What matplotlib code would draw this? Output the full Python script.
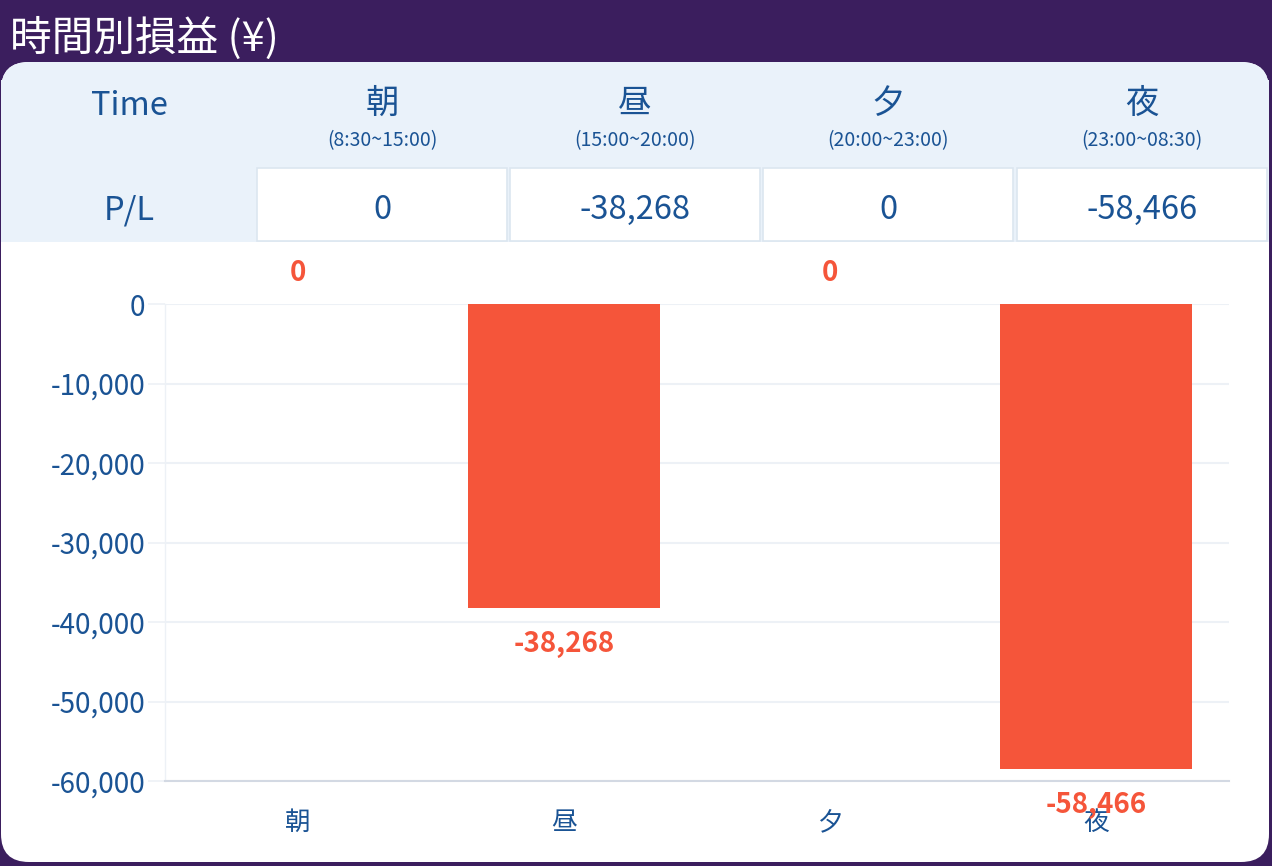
import matplotlib
matplotlib.use("Agg")
import matplotlib.pyplot as plt
from matplotlib.patches import Rectangle, FancyBboxPatch
from matplotlib.ticker import FuncFormatter

plt.rcParams['font.family'] = ['Noto Sans CJK JP', 'DejaVu Sans']

title = "時間別損益 (¥)"
categories = ["朝", "昼", "夕", "夜"]
time_ranges = ["(8:30~15:00)", "(15:00~20:00)", "(20:00~23:00)", "(23:00~08:30)"]
pl_values = [0, -38268, 0, -58466]
y_ticks = [0, -10000, -20000, -30000, -40000, -50000, -60000]

PURPLE = "#3B1E5E"
BLUE = "#1A5394"
BAR = "#F5553A"
LIGHT = "#EAF2FA"
GRID = "#EDF1F6"

W, H = 1272, 866
fig = plt.figure(figsize=(W / 100, H / 100), dpi=100)
fig.patch.set_facecolor(PURPLE)

def fx(x):
    return x / W

def fy(y):
    return 1 - y / H

# white card
card = FancyBboxPatch((fx(1), fy(862)), fx(1268), (862 - 62) / H,
                      boxstyle="round,pad=0,rounding_size=0.022",
                      transform=fig.transFigure, facecolor="white",
                      edgecolor="none", mutation_aspect=W / H, zorder=-3)
fig.patches.append(card)
fig.patches.append(Rectangle((fx(1), fy(242)), fx(1268), (242 - 80) / H,
                             transform=fig.transFigure, facecolor=LIGHT,
                             edgecolor="none", zorder=-2))
top = FancyBboxPatch((fx(1), fy(130)), fx(1268), (130 - 62) / H,
                     boxstyle="round,pad=0,rounding_size=0.022",
                     transform=fig.transFigure, facecolor=LIGHT,
                     edgecolor="none", mutation_aspect=W / H, zorder=-2)
fig.patches.append(top)

fig.text(fx(10), fy(38), title, color="white", fontsize=30, va="center", ha="left")

col_left = [257, 510, 763, 1017]
col_w = 250
fig.text(fx(129), fy(106), "Time", color=BLUE, fontsize=23.5, ha="center", va="center")
fig.text(fx(129), fy(211), "P/L", color=BLUE, fontsize=23.5, ha="center", va="center")
for i, cat in enumerate(categories):
    cx = col_left[i] + col_w / 2
    fig.text(fx(cx), fy(103), cat, color=BLUE, fontsize=24, ha="center", va="center")
    fig.text(fx(cx), fy(141), time_ranges[i], color=BLUE, fontsize=14, ha="center", va="center")
    fig.patches.append(Rectangle((fx(col_left[i]), fy(241)), fx(col_w), (241 - 168) / H,
                                 transform=fig.transFigure, facecolor="white",
                                 edgecolor="#DCE6F0", linewidth=1.2, zorder=-1))
    fig.text(fx(cx), fy(210), f"{pl_values[i]:,}", color=BLUE, fontsize=23.5,
             ha="center", va="center")

# chart axes
ax = fig.add_axes([fx(165), fy(781), fx(1229 - 165), (781 - 304) / H])
ax.set_facecolor("white")
x = range(len(categories))
ax.bar(x, pl_values, width=0.72, color=BAR, zorder=3)
ax.set_xlim(-0.5, len(categories) - 0.5)
ax.set_ylim(-60000, 0)
ax.set_yticks(y_ticks)
ax.yaxis.set_major_formatter(FuncFormatter(lambda v, p: f"{int(v):,}"))
ax.set_xticks(list(x))
ax.set_xticklabels(categories)
ax.grid(axis="y", color=GRID, linewidth=1.5, zorder=0)
ax.tick_params(axis="y", colors=BLUE, labelsize=20, length=12, width=1.2, color=GRID, pad=2)
ax.tick_params(axis="x", colors=BLUE, labelsize=18.5, length=0, pad=21)
for lab in ax.get_yticklabels() + ax.get_xticklabels():
    lab.set_color(BLUE)
for s in ["top", "right"]:
    ax.spines[s].set_visible(False)
ax.spines["left"].set_color(GRID)
ax.spines["left"].set_linewidth(1)
ax.spines["bottom"].set_color("#D3D9E3")
ax.spines["bottom"].set_linewidth(1.5)

for i, v in enumerate(pl_values):
    if v == 0:
        ax.annotate(f"{v:,}", (i, v), xytext=(0, 22), textcoords="offset points",
                    ha="center", va="center", color=BAR, fontsize=20, fontweight="bold",
                    annotation_clip=False)
    else:
        ax.annotate(f"{v:,}", (i, v), xytext=(0, -26), textcoords="offset points",
                    ha="center", va="center", color=BAR, fontsize=20, fontweight="bold",
                    annotation_clip=False, zorder=5)

fig.savefig("out.png", dpi=100, facecolor=PURPLE)
